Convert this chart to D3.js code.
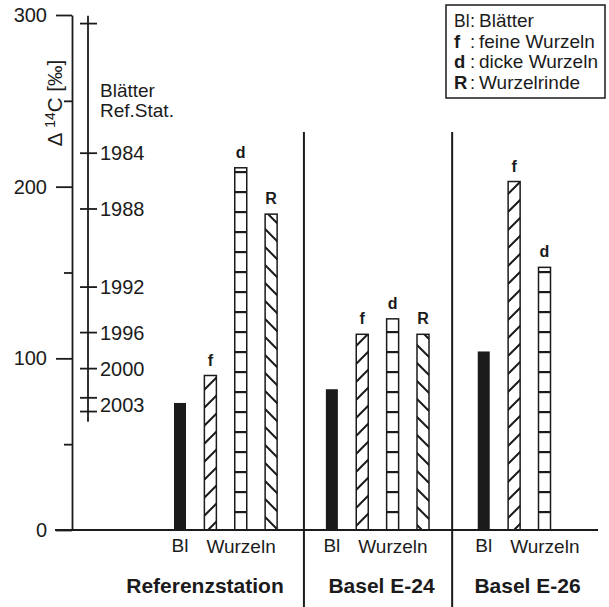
<!DOCTYPE html>
<html>
<head>
<meta charset="utf-8">
<script src="https://cdn.jsdelivr.net/npm/d3@7"></script>
<style>
  html, body { margin: 0; padding: 0; background: #fff; }
  svg { display: block; font-family: "Liberation Sans", Arial, Helvetica, sans-serif; }
</style>
</head>
<body>
<svg id="chart" width="609" height="607"></svg>
<script>
// Δ14C of leaves and roots at the reference station and two Basel sites
const groups = ["Referenzstation", "Basel E-24", "Basel E-26"];
const sampleTypes = ["Bl", "f", "d", "R"];
const refValues = [74, 90, 211, 184];
const e24Values = [82, 114, 123, 114];
const e26Values = [104, 203, 153];
const groupValues = [refValues, e24Values, e26Values];

// atmospheric reference: leaves of the reference station by year
const yearLabels = ["1984", "1988", "1992", "1996", "2000", "2003"];
const yearLabelValues = [219.5, 187, 141.5, 115, 94, 73];
const yearTickValues = [295, 219.5, 187, 141.5, 115, 94, 77, 69];
const yearRange = [299.5, 63];

const yTicks = [0, 100, 200, 300];
const yMinorTicks = [50, 150, 250];

const legendKeys = ["Bl", "f", "d", "R"];
const legendTexts = ["Blätter", "feine Wurzeln", "dicke Wurzeln", "Wurzelrinde"];

const ink = "#1b1b1b";
const svg = d3.select("#chart");
svg.append("rect").attr("width", 609).attr("height", 607).attr("fill", "#fff");

const y = d3.scaleLinear().domain([0, 300]).range([530, 15]);
// one slot per bar, an empty slot between groups
const x = d3.scaleLinear().domain([0, 12]).range([180, 544.5]);
const barW = 12;

// hatch patterns
const defs = svg.append("defs");
const pf = defs.append("pattern").attr("id", "hatch-f").attr("patternUnits", "userSpaceOnUse")
  .attr("width", 18).attr("height", 18);
pf.append("path").attr("d", "M-2,20 L20,-2 M-2,2 L2,-2 M16,20 L20,16")
  .attr("stroke", ink).attr("stroke-width", 2);
const pr = defs.append("pattern").attr("id", "hatch-R").attr("patternUnits", "userSpaceOnUse")
  .attr("width", 18).attr("height", 18);
pr.append("path").attr("d", "M-2,-2 L20,20 M-2,16 L2,20 M16,-2 L20,2")
  .attr("stroke", ink).attr("stroke-width", 2);
const pd = defs.append("pattern").attr("id", "hatch-d").attr("patternUnits", "userSpaceOnUse")
  .attr("width", 20).attr("height", 20);
pd.append("rect").attr("x", 0).attr("y", 11).attr("width", 20).attr("height", 2.2).attr("fill", ink);

// left value axis
const axisG = svg.append("g").attr("transform", "translate(72,0)");
axisG.call(d3.axisLeft(y).tickValues(yTicks).tickSize(16).tickSizeOuter(0).tickPadding(9));
axisG.append("g").call(d3.axisLeft(y).tickValues(yMinorTicks).tickSize(8).tickSizeOuter(0).tickFormat(""))
  .select(".domain").remove();
axisG.selectAll("path, line").attr("stroke", ink).attr("stroke-width", 1.8);
axisG.selectAll("text").attr("fill", ink).attr("font-size", 20)
  .attr("font-family", "'Liberation Sans', Arial, sans-serif");

// axis title
const title = svg.append("text")
  .attr("transform", `translate(62,103) rotate(-90)`)
  .attr("text-anchor", "middle").attr("font-size", 20.5).attr("fill", ink);
title.append("tspan").text("Δ ");
title.append("tspan").attr("font-size", 14).attr("dy", -7).text("14");
title.append("tspan").attr("dy", 7).text("C [‰]");

// baseline
svg.append("line").attr("x1", 55).attr("x2", 598).attr("y1", y(0)).attr("y2", y(0))
  .attr("stroke", ink).attr("stroke-width", 1.8);

// reference year scale
const yrX = 88;
svg.append("line").attr("x1", yrX).attr("x2", yrX).attr("y1", y(yearRange[0])).attr("y2", y(yearRange[1]))
  .attr("stroke", ink).attr("stroke-width", 1.8);
svg.selectAll(".yr-tick").data(yearTickValues).join("line")
  .attr("x1", yrX - 8).attr("x2", yrX + 9)
  .attr("y1", d => y(d)).attr("y2", d => y(d))
  .attr("stroke", ink).attr("stroke-width", 1.8);
svg.selectAll(".yr-label").data(yearLabels).join("text")
  .attr("x", yrX + 12).attr("y", (d, i) => y(yearLabelValues[i]))
  .attr("dy", "0.36em").attr("font-size", 20).attr("fill", ink).text(d => d);
svg.append("text").attr("x", yrX + 12).attr("y", 97).attr("font-size", 19).attr("fill", ink).text("Blätter");
svg.append("text").attr("x", yrX + 12).attr("y", 117).attr("font-size", 19).attr("fill", ink).text("Ref.Stat.");

// group dividers
[4.08, 8.96].forEach(s => {
  svg.append("line").attr("x1", x(s)).attr("x2", x(s)).attr("y1", 132).attr("y2", 607)
    .attr("stroke", ink).attr("stroke-width", 2);
});

// bars
const bars = [];
groupValues.forEach((vals, g) => {
  vals.forEach((v, t) => bars.push({ group: g, type: sampleTypes[t], value: v, slot: g * 5 + t }));
});

const barG = svg.append("g");
barG.selectAll("rect").data(bars).join("rect")
  .attr("x", d => x(d.slot) - barW / 2)
  .attr("y", d => y(d.value))
  .attr("width", barW)
  .attr("height", d => y(0) - y(d.value))
  .attr("fill", d => d.type === "Bl" ? ink : `url(#hatch-${d.type})`)
  .attr("stroke", d => d.type === "Bl" ? "none" : ink)
  .attr("stroke-width", 1.5);

// bar letters
barG.selectAll("text").data(bars.filter(d => d.type !== "Bl")).join("text")
  .attr("x", d => x(d.slot)).attr("y", d => y(d.value) - 10)
  .attr("text-anchor", "middle").attr("font-size", 16).attr("font-weight", "bold")
  .attr("fill", ink).text(d => d.type);

// category labels under the baseline
const groupLabelX = [205, 381.5, 527.5];
groups.forEach((name, g) => {
  svg.append("text").attr("x", x(g * 5)).attr("y", 552).attr("text-anchor", "middle")
    .attr("font-size", 19).attr("fill", ink).text("Bl");
  svg.append("text").attr("x", x(g * 5 + 1) - 4).attr("y", 553).attr("text-anchor", "start")
    .attr("font-size", 19).attr("fill", ink).text("Wurzeln");
  svg.append("text").attr("x", groupLabelX[g]).attr("y", 593).attr("text-anchor", "middle")
    .attr("font-size", 21).attr("font-weight", "bold").attr("fill", ink).text(name);
});

// legend
const lg = svg.append("g");
lg.append("rect").attr("x", 446).attr("y", 5).attr("width", 159).attr("height", 93)
  .attr("fill", "#fff").attr("stroke", ink).attr("stroke-width", 1.5);
legendKeys.forEach((k, i) => {
  const yy = 27 + i * 20.7;
  lg.append("text").attr("x", 454).attr("y", yy)
    .attr("font-size", k === "Bl" ? 17.5 : 18.5).attr("font-weight", k === "Bl" ? "normal" : "bold")
    .attr("fill", ink).text(k);
  lg.append("text").attr("x", 470).attr("y", yy).attr("font-size", 18.5).attr("fill", ink).text(":");
  lg.append("text").attr("x", 479).attr("y", yy).attr("font-size", 19).attr("fill", ink)
    .text(legendTexts[i]);
});
</script>
</body>
</html>
